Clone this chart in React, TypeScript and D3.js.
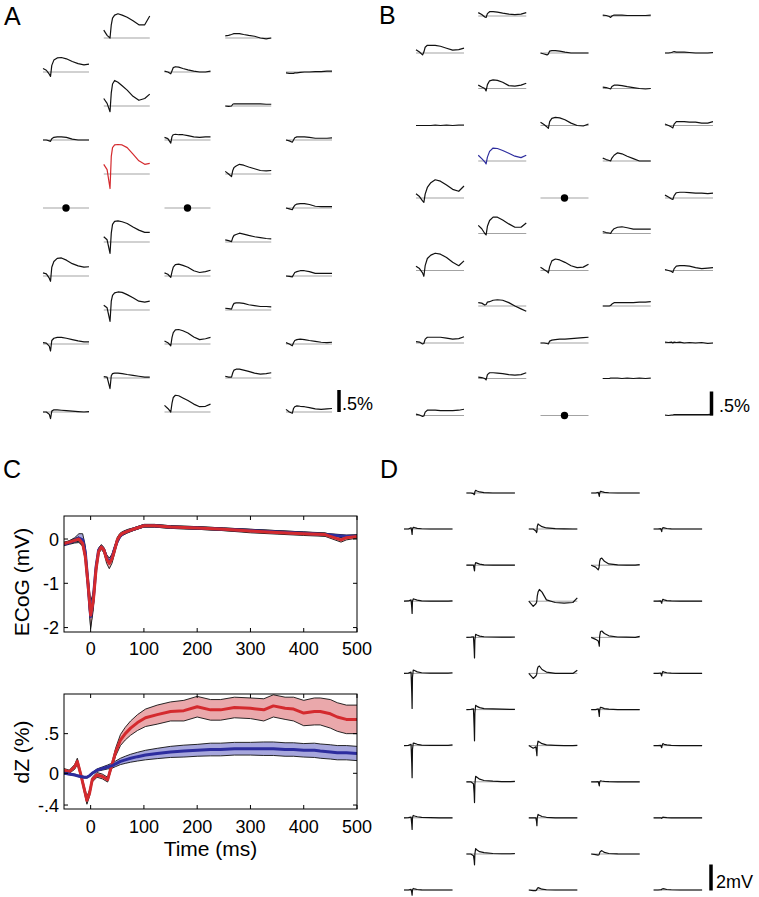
import React from "react";
import * as d3 from "d3";

// ---------- Panels A / B : small impedance traces (dZ, %) ----------
const traceTimesAB = [-50, -10, 25, 40, 55, 80, 120, 170, 230, 300, 370, 440, 500];

const panelACol1 = [
  [0.08, 0.04, -0.05, -0.1, 0.15, 0.27, 0.32, 0.33, 0.3, 0.24, 0.19, 0.16, 0.18],
  [0.0, 0.0, -0.02, -0.03, 0.03, 0.06, 0.07, 0.07, 0.06, 0.02, 0.0, 0.0, 0.0],
  null,
  [0.07, 0.05, -0.05, -0.12, 0.2, 0.33, 0.4, 0.41, 0.36, 0.28, 0.23, 0.2, 0.21],
  [0.03, 0.02, -0.05, -0.16, 0.08, 0.13, 0.15, 0.15, 0.13, 0.1, 0.07, 0.05, 0.05],
  [0.0, 0.0, -0.05, -0.15, 0.02, 0.05, 0.05, 0.04, 0.03, 0.02, 0.01, 0.0, 0.01],
];
const panelACol2 = [
  [0.18, 0.06, 0.0, 0.3, 0.45, 0.52, 0.55, 0.52, 0.47, 0.39, 0.3, 0.3, 0.5],
  [0.17, 0.06, -0.13, 0.3, 0.5, 0.58, 0.54, 0.46, 0.36, 0.22, 0.13, 0.17, 0.27],
  [0.22, 0.1, -0.33, 0.4, 0.6, 0.66, 0.67, 0.66, 0.6, 0.45, 0.3, 0.22, 0.24],
  [0.12, 0.05, -0.26, 0.2, 0.4, 0.47, 0.48, 0.46, 0.42, 0.34, 0.27, 0.22, 0.22],
  [0.11, 0.05, -0.26, 0.2, 0.33, 0.39, 0.41, 0.4, 0.35, 0.28, 0.2, 0.18, 0.2],
  [0.03, 0.02, -0.24, 0.05, 0.1, 0.11, 0.11, 0.1, 0.08, 0.06, 0.04, 0.02, 0.02],
];
const panelACol3 = [
  [0.02, 0.0, -0.04, 0.03, 0.1, 0.12, 0.11, 0.08, 0.05, 0.02, 0.0, 0.0, 0.02],
  [0.06, 0.03, -0.07, 0.08, 0.12, 0.13, 0.12, 0.12, 0.1, 0.07, 0.06, 0.07, 0.07],
  null,
  [0.07, 0.04, -0.03, 0.1, 0.2, 0.26, 0.27, 0.24, 0.2, 0.12, 0.08, 0.1, 0.13],
  [0.07, 0.03, -0.04, 0.15, 0.26, 0.32, 0.33, 0.3, 0.25, 0.16, 0.1, 0.12, 0.15],
  [0.15, 0.08, 0.0, 0.2, 0.33, 0.38, 0.37, 0.32, 0.26, 0.18, 0.12, 0.13, 0.18],
];
const panelACol4 = [
  [0.05, 0.06, 0.08, 0.09, 0.1, 0.1, 0.1, 0.08, 0.06, 0.04, 0.0, -0.02, 0.0],
  [0.0, -0.01, 0.0, 0.04, 0.05, 0.05, 0.05, 0.05, 0.05, 0.05, 0.05, 0.04, 0.04],
  [0.06, 0.0, -0.06, 0.08, 0.15, 0.18, 0.22, 0.2, 0.16, 0.12, 0.08, 0.07, 0.08],
  [0.05, 0.03, 0.01, 0.1, 0.15, 0.17, 0.2, 0.18, 0.15, 0.12, 0.1, 0.08, 0.07],
  [0.04, 0.03, 0.02, 0.1, 0.15, 0.16, 0.16, 0.15, 0.12, 0.1, 0.08, 0.08, 0.07],
  [0.04, 0.02, 0.02, 0.12, 0.18, 0.2, 0.2, 0.18, 0.15, 0.11, 0.09, 0.1, 0.12],
];
const panelACol5 = [
  [-0.02, -0.03, -0.03, -0.03, -0.02, -0.02, -0.01, 0.0, 0.0, 0.01, 0.01, 0.02, 0.02],
  [0.0, -0.02, -0.05, 0.0, 0.05, 0.07, 0.07, 0.07, 0.06, 0.04, 0.04, 0.04, 0.05],
  [0.0, -0.02, -0.04, 0.02, 0.06, 0.09, 0.1, 0.1, 0.08, 0.04, 0.03, 0.03, 0.03],
  [0.0, -0.01, -0.02, 0.03, 0.08, 0.1, 0.12, 0.12, 0.1, 0.06, 0.06, 0.06, 0.06],
  [0.03, 0.0, -0.04, 0.03, 0.08, 0.1, 0.11, 0.1, 0.08, 0.06, 0.04, 0.03, 0.04],
  [0.06, 0.0, -0.03, 0.08, 0.12, 0.14, 0.13, 0.12, 0.1, 0.07, 0.06, 0.07, 0.08],
];
const panelA = [panelACol1, panelACol2, panelACol3, panelACol4, panelACol5];

const panelBCol1 = [
  [0.07, 0.02, -0.04, 0.02, 0.12, 0.16, 0.16, 0.16, 0.14, 0.1, 0.06, 0.07, 0.1],
  [0.0, 0.0, 0.0, 0.0, 0.0, 0.0, 0.0, 0.01, 0.0, 0.01, 0.0, 0.01, 0.01],
  [0.09, 0.03, -0.06, -0.09, 0.08, 0.22, 0.32, 0.38, 0.35, 0.27, 0.18, 0.14, 0.25],
  [0.09, 0.04, -0.05, -0.12, 0.1, 0.25, 0.32, 0.36, 0.34, 0.27, 0.17, 0.1, 0.2],
  [0.03, 0.02, -0.02, -0.01, 0.08, 0.12, 0.12, 0.12, 0.12, 0.1, 0.08, 0.09, 0.13],
  [0.03, 0.01, -0.02, -0.01, 0.07, 0.11, 0.11, 0.11, 0.1, 0.1, 0.1, 0.11, 0.13],
];
const panelBCol2 = [
  [0.07, 0.03, -0.02, -0.03, 0.05, 0.09, 0.09, 0.08, 0.06, 0.04, 0.03, 0.04, 0.07],
  [0.07, 0.03, 0.0, -0.05, 0.08, 0.16, 0.18, 0.17, 0.13, 0.06, 0.05, 0.07, 0.11],
  [0.12, 0.05, -0.02, -0.06, 0.08, 0.2, 0.27, 0.26, 0.22, 0.16, 0.1, 0.07, 0.12],
  [0.17, 0.1, 0.0, -0.03, 0.15, 0.27, 0.34, 0.34, 0.28, 0.2, 0.13, 0.13, 0.22],
  [0.07, 0.06, 0.02, 0.03, 0.08, 0.09, 0.12, 0.13, 0.12, 0.07, 0.0, -0.06, -0.11],
  [0.03, 0.02, 0.0, -0.03, 0.08, 0.12, 0.12, 0.11, 0.1, 0.08, 0.07, 0.08, 0.12],
];
const panelBCol3 = [
  [0.0, -0.02, -0.04, -0.02, 0.04, 0.05, 0.05, 0.04, 0.02, 0.0, 0.0, 0.0, 0.0],
  [0.07, 0.02, -0.03, -0.06, 0.08, 0.15, 0.17, 0.16, 0.12, 0.05, 0.0, -0.01, 0.03],
  null,
  [0.07, 0.02, -0.02, -0.05, 0.08, 0.2, 0.24, 0.22, 0.17, 0.1, 0.06, 0.07, 0.13],
  [0.0, 0.0, -0.01, -0.02, 0.04, 0.06, 0.07, 0.08, 0.08, 0.09, 0.1, 0.11, 0.12],
  null,
];
const panelBCol4 = [
  [0.02, 0.01, -0.01, -0.03, 0.0, 0.02, 0.02, 0.02, 0.01, 0.01, 0.01, 0.01, 0.02],
  [0.03, 0.02, 0.0, -0.01, 0.04, 0.07, 0.07, 0.06, 0.04, 0.02, 0.0, -0.01, 0.0],
  [0.06, 0.03, 0.01, 0.0, 0.06, 0.12, 0.17, 0.15, 0.1, 0.05, 0.0, 0.0, 0.0],
  [0.04, 0.02, 0.01, 0.0, 0.05, 0.1, 0.13, 0.14, 0.12, 0.09, 0.09, 0.09, 0.09],
  [0.0, 0.0, 0.0, 0.01, 0.04, 0.07, 0.07, 0.07, 0.07, 0.07, 0.08, 0.08, 0.09],
  [0.0, 0.0, 0.0, 0.01, 0.01, 0.01, 0.01, 0.0, 0.01, 0.0, 0.01, 0.0, 0.01],
];
const panelBCol5 = [
  [0.0, 0.0, 0.01, 0.02, 0.03, 0.02, 0.02, 0.02, 0.01, 0.0, 0.0, 0.0, 0.01],
  [0.03, 0.0, -0.03, -0.05, 0.03, 0.08, 0.08, 0.08, 0.07, 0.07, 0.05, 0.05, 0.08],
  [0.06, 0.02, -0.02, -0.03, 0.05, 0.11, 0.12, 0.12, 0.11, 0.1, 0.1, 0.09, 0.1],
  [0.02, 0.0, -0.02, -0.04, 0.04, 0.09, 0.1, 0.1, 0.09, 0.06, 0.04, 0.05, 0.06],
  [0.02, 0.01, 0.02, 0.0, 0.02, 0.01, 0.02, 0.0, 0.01, 0.0, 0.01, -0.01, 0.0],
  [0.01, 0.0, 0.01, 0.01, 0.02, 0.02, 0.02, 0.02, 0.02, 0.02, 0.02, 0.02, 0.03],
];
const panelB = [panelBCol1, panelBCol2, panelBCol3, panelBCol4, panelBCol5];

// ---------- Panel D : small ECoG traces (mV) ----------
const traceTimesD = [-50, 0, 30, 38, 42, 46, 55, 70, 100, 150, 250, 350, 450, 500];

const panelDCol1 = [
  [0, 0.0, 0.1, -0.2, -0.42, 0.0, 0.13, 0.1, 0.05, 0.02, 0, 0, 0, 0],
  [0, 0.02, 0.1, -0.5, -0.94, 0.0, 0.18, 0.15, 0.08, 0.03, 0.0, 0.0, 0.0, 0.03],
  [0, 0.02, 0.1, -1.5, -2.7, -0.3, 0.26, 0.22, 0.12, 0.05, 0.02, 0.02, 0.02, 0.05],
  [0, 0.02, 0.1, -1.4, -2.47, -0.3, 0.2, 0.17, 0.1, 0.04, 0.02, 0.02, 0.02, 0.05],
  [0, 0.02, 0.05, -0.5, -0.9, 0.0, 0.18, 0.14, 0.08, 0.03, 0.01, 0.0, 0.0, 0.0],
  [0, 0.0, 0.05, -0.2, -0.4, 0.0, 0.12, 0.08, 0.04, 0.01, 0, 0, 0, 0],
];
const panelDCol2 = [
  [0, 0.0, -0.05, -0.13, -0.1, 0.1, 0.2, 0.15, 0.08, 0.03, 0.0, 0, 0, 0],
  [0, 0.0, 0.0, -0.3, -0.44, 0.0, 0.2, 0.16, 0.08, 0.03, 0.0, 0, 0, 0],
  [0, 0.02, 0.05, -0.9, -1.58, -0.2, 0.23, 0.18, 0.1, 0.05, 0.03, 0.02, 0.02, 0.03],
  [0, 0.02, 0.05, -1.4, -2.4, -0.3, 0.33, 0.25, 0.15, 0.08, 0.05, 0.03, 0.02, 0.02],
  [0, 0.0, -0.15, -0.9, -1.6, -0.2, 0.42, 0.35, 0.2, 0.1, 0.05, 0.02, 0.02, 0.03],
  [0, 0.0, -0.13, -0.5, -0.83, 0.0, 0.42, 0.3, 0.18, 0.1, 0.04, 0.02, 0.02, 0.04],
];
const panelDCol3 = [
  [0, 0.0, -0.15, -0.28, -0.2, 0.2, 0.39, 0.3, 0.18, 0.08, 0.03, 0.01, 0.0, 0.0],
  [0, -0.4, -0.2, -0.1, 0.1, 0.4, 0.7, 0.9, 0.7, 0.1, -0.1, -0.15, -0.1, 0.25],
  [0, -0.39, -0.2, -0.1, 0.05, 0.3, 0.5, 0.57, 0.3, 0.1, 0.0, 0.0, 0.0, 0.25],
  [0, -0.2, -0.1, -0.5, -0.78, 0.0, 0.34, 0.28, 0.15, 0.05, 0.02, 0.0, 0.0, 0.02],
  [0, 0.0, 0.0, -0.3, -0.6, 0.0, 0.26, 0.2, 0.1, 0.04, 0.0, 0, 0, 0],
  [0, -0.05, -0.05, 0.0, 0.05, 0.12, 0.18, 0.14, 0.06, 0.02, 0, 0, 0, 0],
];
const panelDCol4 = [
  [0, 0.0, 0.05, -0.15, -0.26, 0.0, 0.13, 0.1, 0.05, 0.02, 0, 0, 0, 0],
  [0, -0.15, -0.36, -0.2, 0.0, 0.3, 0.5, 0.55, 0.3, 0.1, 0.02, 0.0, 0.0, 0.05],
  [0, -0.15, -0.28, -0.5, -0.68, 0.1, 0.45, 0.49, 0.3, 0.12, 0.03, 0.02, 0.0, 0.08],
  [0, 0.0, 0.05, -0.3, -0.52, 0.0, 0.18, 0.15, 0.08, 0.03, 0.0, 0, 0, 0],
  [0, 0.0, 0.02, -0.2, -0.31, 0.0, 0.08, 0.06, 0.03, 0.01, 0, 0, 0, 0],
  [0, -0.05, -0.08, -0.05, 0.0, 0.1, 0.2, 0.26, 0.12, 0.04, 0.01, 0, 0, 0],
];
const panelDCol5 = [
  [0, 0, 0.03, -0.12, -0.2, 0.0, 0.1, 0.08, 0.04, 0.01, 0, 0, 0, 0],
  [0, 0, 0.02, -0.1, -0.16, 0.0, 0.15, 0.1, 0.05, 0.02, 0, 0, 0, 0],
  [0, 0, 0.03, -0.12, -0.2, 0.0, 0.15, 0.1, 0.05, 0.02, 0, 0, 0, 0],
  [0, 0, 0.02, -0.1, -0.16, 0.0, 0.15, 0.1, 0.05, 0.02, 0, 0, 0, 0],
  [0, 0, 0, -0.02, -0.05, 0.0, 0.05, 0.04, 0.02, 0, 0, 0, 0, 0],
  [0, 0, 0.02, 0.02, 0.05, 0.08, 0.1, 0.08, 0.04, 0.02, 0, 0, 0, 0],
];
const panelD = [panelDCol1, panelDCol2, panelDCol3, panelDCol4, panelDCol5];

// ---------- Panel C : averages ----------
const ecogTimes = [-50, -40, -30, -22, -15, -10, -5, 0, 5, 10, 15, 20, 25, 30, 35, 40, 45, 50, 55, 60, 70, 80, 90, 100, 120, 150, 200, 250, 300, 350, 400, 440, 470, 480, 500];
const ecogRedMean = [-0.1, -0.07, -0.03, 0.0, -0.1, -0.4, -1.0, -1.72, -1.4, -0.7, -0.28, -0.18, -0.25, -0.45, -0.55, -0.45, -0.25, -0.02, 0.08, 0.13, 0.18, 0.22, 0.26, 0.3, 0.3, 0.27, 0.25, 0.22, 0.18, 0.15, 0.12, 0.1, -0.02, 0.03, 0.06];
const ecogRedSem = [0.03, 0.03, 0.04, 0.05, 0.06, 0.08, 0.15, 0.3, 0.2, 0.1, 0.06, 0.05, 0.06, 0.1, 0.12, 0.1, 0.08, 0.06, 0.05, 0.04, 0.04, 0.03, 0.03, 0.03, 0.03, 0.03, 0.03, 0.03, 0.04, 0.04, 0.04, 0.04, 0.05, 0.05, 0.04];
const ecogBlueMean = [-0.12, -0.08, -0.03, 0.02, -0.02, -0.3, -1.0, -1.75, -1.35, -0.65, -0.25, -0.18, -0.25, -0.43, -0.52, -0.42, -0.22, -0.05, 0.06, 0.12, 0.18, 0.22, 0.26, 0.3, 0.3, 0.27, 0.25, 0.22, 0.19, 0.16, 0.13, 0.1, 0.07, 0.06, 0.06];
const ecogBlueSem = [0.03, 0.04, 0.06, 0.1, 0.14, 0.15, 0.15, 0.25, 0.15, 0.1, 0.05, 0.05, 0.05, 0.06, 0.08, 0.07, 0.06, 0.05, 0.04, 0.04, 0.03, 0.03, 0.03, 0.03, 0.03, 0.03, 0.03, 0.03, 0.03, 0.03, 0.03, 0.03, 0.03, 0.03, 0.03];

const dzTimes = [-50, -40, -30, -25, -19, -12, -7, -2, 3, 12, 22, 32, 37, 42, 47, 56, 65, 75, 88, 103, 125, 150, 175, 200, 225, 244, 270, 300, 325, 343, 365, 381, 400, 420, 431, 450, 463, 480, 500];
const dzRedMean = [0.04, 0.02, 0.08, 0.15, 0.0, -0.2, -0.34, -0.25, -0.08, -0.02, -0.04, -0.08, 0.04, 0.15, 0.27, 0.42, 0.5, 0.57, 0.64, 0.7, 0.74, 0.78, 0.79, 0.84, 0.8, 0.8, 0.83, 0.82, 0.8, 0.85, 0.82, 0.81, 0.76, 0.78, 0.78, 0.75, 0.71, 0.68, 0.68];
const dzRedSem = [0.02, 0.02, 0.03, 0.04, 0.03, 0.04, 0.05, 0.04, 0.03, 0.03, 0.03, 0.03, 0.03, 0.04, 0.05, 0.07, 0.08, 0.09, 0.1, 0.11, 0.12, 0.12, 0.13, 0.13, 0.13, 0.13, 0.13, 0.13, 0.14, 0.14, 0.14, 0.15, 0.16, 0.17, 0.17, 0.18, 0.18, 0.18, 0.18];
const dzBlueMean = [0.0, -0.01, -0.02, -0.03, -0.04, -0.05, -0.05, -0.03, 0.0, 0.04, 0.06, 0.08, 0.09, 0.1, 0.12, 0.15, 0.17, 0.19, 0.21, 0.23, 0.25, 0.27, 0.28, 0.29, 0.3, 0.3, 0.31, 0.31, 0.31, 0.31, 0.3, 0.3, 0.29, 0.29, 0.28, 0.27, 0.26, 0.26, 0.25];
const dzBlueSem = [0.01, 0.01, 0.01, 0.01, 0.01, 0.01, 0.01, 0.01, 0.01, 0.015, 0.02, 0.025, 0.03, 0.03, 0.035, 0.04, 0.045, 0.05, 0.055, 0.06, 0.065, 0.07, 0.075, 0.075, 0.08, 0.08, 0.08, 0.08, 0.085, 0.085, 0.085, 0.085, 0.085, 0.09, 0.09, 0.09, 0.09, 0.09, 0.09];

const timeTicks = [0, 100, 200, 300, 400, 500];
const ecogTicks = [-2, -1, 0];
const ecogTickLabels = ["-2", "-1", "0"];
const dzTicks = [-0.4, 0, 0.5];
const dzTickLabels = ["-.4", "0", ".5"];

const FONT = "'Liberation Sans', Arial, Helvetica, sans-serif";
const RED = "#d42a2e";
const BLUE = "#2d2d9e";

type Grid = (number[] | null)[][];

function TraceGrid(props: {
  grid: Grid;
  times: number[];
  left: number;
  colStep: number;
  yEvenCol: number;
  yOddCol: number;
  rowStep: number;
  width: number;
  pxPerUnit: number;
  highlight?: [number, number];
  highlightColor?: string;
}) {
  const { grid, times, left, colStep, yEvenCol, yOddCol, rowStep, width, pxPerUnit, highlight, highlightColor } = props;
  const items: React.ReactNode[] = [];
  grid.forEach((col, c) => {
    col.forEach((vals, r) => {
      const x0 = left + c * colStep;
      const base = (c % 2 === 0 ? yEvenCol : yOddCol) + r * rowStep;
      const xs = d3.scaleLinear().domain([-50, 500]).range([x0, x0 + width]);
      const ys = d3.scaleLinear().domain([0, 1]).range([base, base - pxPerUnit]);
      const key = `${c}-${r}`;
      items.push(
        <line key={key + "b"} x1={x0} x2={x0 + width} y1={base} y2={base} stroke="#a3a3a3" strokeWidth={1} />
      );
      if (vals === null) {
        items.push(<circle key={key + "d"} cx={xs(225)} cy={base} r={3.7} fill="#000" />);
      } else {
        const line = d3
          .line<number>()
          .x((_, i) => xs(times[i]))
          .y((v) => ys(v));
        const hl = highlight && highlight[0] === c && highlight[1] === r;
        items.push(
          <path
            key={key + "t"}
            d={line(vals) || ""}
            fill="none"
            stroke={hl ? highlightColor : "#111"}
            strokeWidth={hl ? 1.2 : 1.2}
            strokeLinejoin="round"
          />
        );
      }
    });
  });
  return <g>{items}</g>;
}

function BandPlot(props: {
  top: number;
  bottom: number;
  yDomain: [number, number];
  times: number[];
  series: { mean: number[]; sem: number[]; fill: string; color: string }[];
  yTicks: number[];
  yTickLabels: string[];
  label: string;
  labelY: number;
  xLabelBaseline: number;
  id: string;
}) {
  const { top, bottom, yDomain, times, series, yTicks, yTickLabels, label, labelY, xLabelBaseline, id } = props;
  const left = 64;
  const right = 357;
  const x = d3.scaleLinear().domain([-50, 500]).range([left, right]);
  const y = d3.scaleLinear().domain(yDomain).range([bottom, top]);
  const area = (m: number[], s: number[]) =>
    d3
      .area<number>()
      .x((_, i) => x(times[i]))
      .y0((v, i) => y(v - s[i]))
      .y1((v, i) => y(v + s[i]))(m) || "";
  const edge = (m: number[], s: number[], sign: number) =>
    d3
      .line<number>()
      .x((_, i) => x(times[i]))
      .y((v, i) => y(v + sign * s[i]))(m) || "";
  const mid = (m: number[]) =>
    d3
      .line<number>()
      .x((_, i) => x(times[i]))
      .y((v) => y(v))(m) || "";
  const tl = 4;
  return (
    <g>
      <defs>
        <clipPath id={id}>
          <rect x={left} y={top} width={right - left} height={bottom - top} />
        </clipPath>
      </defs>
      <g clipPath={`url(#${id})`}>
        {series.map((s, i) => (
          <g key={i}>
            <path d={area(s.mean, s.sem)} fill={s.fill} stroke="none" />
            <path d={edge(s.mean, s.sem, 1)} fill="none" stroke="#111" strokeWidth={0.9} />
            <path d={edge(s.mean, s.sem, -1)} fill="none" stroke="#111" strokeWidth={0.9} />
          </g>
        ))}
        {series.map((s, i) => (
          <path key={"m" + i} d={mid(s.mean)} fill="none" stroke={s.color} strokeWidth={3} strokeLinejoin="round" />
        ))}
      </g>
      <rect x={left} y={top} width={right - left} height={bottom - top} fill="none" stroke="#000" strokeWidth={1} />
      {timeTicks.map((t) => (
        <g key={"xt" + t}>
          <line x1={x(t)} x2={x(t)} y1={bottom} y2={bottom - tl} stroke="#000" />
          <line x1={x(t)} x2={x(t)} y1={top} y2={top + tl} stroke="#000" />
          <text x={x(t)} y={xLabelBaseline} textAnchor="middle" fontSize={18} fontFamily={FONT}>
            {t}
          </text>
        </g>
      ))}
      {yTicks.map((v, i) => (
        <g key={"yt" + i}>
          <line x1={left} x2={left + tl} y1={y(v)} y2={y(v)} stroke="#000" />
          <line x1={right} x2={right - tl} y1={y(v)} y2={y(v)} stroke="#000" />
          <text x={59} y={y(v)} dy="0.36em" textAnchor="end" fontSize={18} fontFamily={FONT}>
            {yTickLabels[i]}
          </text>
        </g>
      ))}
      <text
        transform={`translate(29,${labelY}) rotate(-90)`}
        textAnchor="middle"
        fontSize={21}
        fontFamily={FONT}
      >
        {label}
      </text>
    </g>
  );
}

export default function App() {
  const aPx = 44;
  const bPx = 48;
  const dPx = 13;
  return (
    <svg
      width={759}
      height={897}
      style={{ position: "absolute", left: 0, top: 0, background: "#fff" }}
      fontFamily={FONT}
    >
      <rect x={0} y={0} width={759} height={897} fill="#fff" />
      {/* panel letters */}
      <text x={4} y={25} fontSize={25} fontFamily={FONT}>A</text>
      <text x={379} y={24} fontSize={25} fontFamily={FONT}>B</text>
      <text x={3} y={478} fontSize={25} fontFamily={FONT}>C</text>
      <text x={380} y={478} fontSize={25} fontFamily={FONT}>D</text>

      {/* Panel A */}
      <TraceGrid
        grid={panelA}
        times={traceTimesAB}
        left={43}
        colStep={60.75}
        yEvenCol={72}
        yOddCol={38}
        rowStep={68}
        width={46}
        pxPerUnit={aPx}
        highlight={[1, 2]}
        highlightColor={RED}
      />
      <line x1={339} x2={339} y1={412} y2={412 - 0.5 * aPx} stroke="#000" strokeWidth={3.5} />
      <text x={342} y={410} fontSize={18} fontFamily={FONT}>.5%</text>

      {/* Panel B */}
      <TraceGrid
        grid={panelB}
        times={traceTimesAB}
        left={416}
        colStep={62.25}
        yEvenCol={53}
        yOddCol={16}
        rowStep={72.5}
        width={48}
        pxPerUnit={bPx}
        highlight={[1, 2]}
        highlightColor={BLUE}
      />
      <line x1={711.5} x2={711.5} y1={415.5} y2={415.5 - 0.5 * bPx} stroke="#000" strokeWidth={3.5} />
      <text x={719} y={412} fontSize={18} fontFamily={FONT}>.5%</text>

      {/* Panel C */}
      <BandPlot
        id="clipTop"
        top={516}
        bottom={632}
        yDomain={[-2.1, 0.52]}
        times={ecogTimes}
        series={[
          { mean: ecogBlueMean, sem: ecogBlueSem, fill: "#a6a6dc", color: BLUE },
          { mean: ecogRedMean, sem: ecogRedSem, fill: "#eaa8ab", color: RED },
        ]}
        yTicks={ecogTicks}
        yTickLabels={ecogTickLabels}
        label="ECoG (mV)"
        labelY={582}
        xLabelBaseline={655}
      />
      <BandPlot
        id="clipBottom"
        top={694}
        bottom={809}
        yDomain={[-0.45, 1.0]}
        times={dzTimes}
        series={[
          { mean: dzRedMean, sem: dzRedSem, fill: "#eaa8ab", color: RED },
          { mean: dzBlueMean, sem: dzBlueSem, fill: "#a6a6dc", color: BLUE },
        ]}
        yTicks={dzTicks}
        yTickLabels={dzTickLabels}
        label="dZ (%)"
        labelY={752}
        xLabelBaseline={833}
      />
      <text x={210.5} y={856} textAnchor="middle" fontSize={21} fontFamily={FONT}>
        Time (ms)
      </text>

      {/* Panel D */}
      <TraceGrid
        grid={panelD}
        times={traceTimesD}
        left={404}
        colStep={62.4}
        yEvenCol={529}
        yOddCol={493}
        rowStep={72.2}
        width={48.5}
        pxPerUnit={dPx}
      />
      <line x1={711} x2={711} y1={890.5} y2={890.5 - 2 * dPx} stroke="#000" strokeWidth={3.5} />
      <text x={716} y={888} fontSize={18} fontFamily={FONT}>2mV</text>
    </svg>
  );
}
